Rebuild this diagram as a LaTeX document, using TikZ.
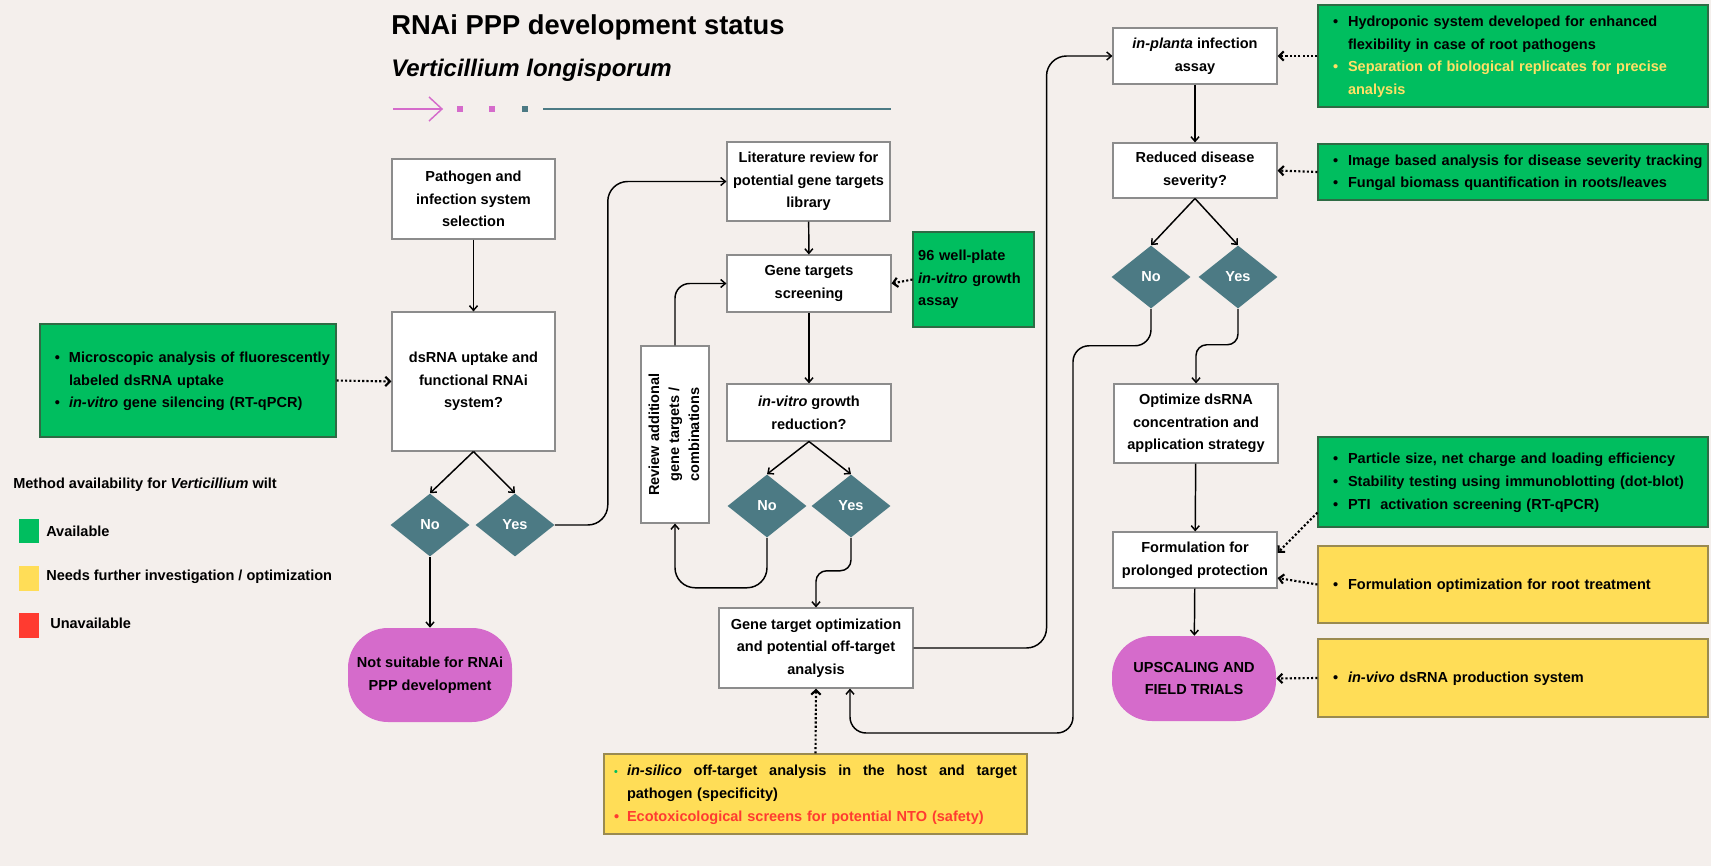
\documentclass[tikz,border=0pt]{standalone}
\usepackage{fontspec}
\setmainfont{Liberation Sans}
\usetikzlibrary{arrows.meta,shapes.geometric}
\definecolor{bg}{HTML}{F4EFEC}
\definecolor{gfill}{HTML}{00BE5F}
\definecolor{gline}{HTML}{2E6B44}
\definecolor{yfill}{HTML}{FFDD57}
\definecolor{yline}{HTML}{9A8A50}
\definecolor{pinkf}{HTML}{D56BCB}
\definecolor{tealc}{HTML}{4C7A84}
\definecolor{bgray}{HTML}{8C8C8C}
\definecolor{redt}{HTML}{FF3B30}
\definecolor{yelt}{HTML}{FFE066}
\newcommand\mybf{\bfseries\fontsize{10.9}{17}\selectfont}
\newcommand\blt{\textbullet}
\begin{document}
\begin{tikzpicture}[x=0.75pt,y=-0.75pt,
  sz/.style 2 args={minimum width=#1*0.75pt, minimum height=#2*0.75pt},
  wbox/.style={draw=bgray, line width=0.8pt, fill=white, inner sep=0pt, align=center, font=\mybf},
  dia/.style={diamond, fill=tealc, inner sep=0pt, text=white, font=\mybf, minimum width=79*0.75pt, minimum height=63*0.75pt},
  pill/.style={fill=pinkf, rounded corners=30pt, inner sep=0pt, align=center, font=\mybf},
  gbox/.style={draw=gline, line width=0.8pt, fill=gfill, inner ysep=0pt, inner xsep=11.25pt, align=left, font=\mybf},
  ybox/.style={draw=yline, line width=0.8pt, fill=yfill, inner ysep=0pt, inner xsep=11.25pt, align=left, font=\mybf},
  lab/.style={inner sep=0pt, anchor=west, font=\mybf},
  arr/.style={line width=1.1pt, -{Straight Barb[length=3.5pt,width=6pt]}},
  dots/.style={line width=1.6pt, dash pattern=on 1.6pt off 1.6pt, -{Straight Barb[length=3.5pt,width=7pt]}},
]
\useasboundingbox (0,0) rectangle (1711,866);
\fill[bg] (0,0) rectangle (1711,866);

% header
\node[anchor=base west, inner sep=0pt, font=\bfseries\fontsize{20.5}{24}\selectfont] (title) at (391,35) {RNAi PPP development status};
\node[anchor=base west, inner sep=0pt, font=\bfseries\itshape\fontsize{18}{22}\selectfont] (subtitle) at (391,77) {Verticillium longisporum};
\draw[pinkf, line width=1.1pt] (393,109) -- (441,109);
\draw[pinkf, line width=1.1pt] (429,97) -- (442,109) -- (429,121);
\fill[pinkf] (457,106) rectangle (463,112);
\fill[pinkf] (489,106) rectangle (495,112);
\fill[tealc] (522,106) rectangle (528,112);
\draw[tealc, line width=1.6pt] (543,109) -- (891,109);

% left column
\node[wbox, sz={163}{80}] (path) at (473.5,199) {Pathogen and\\infection system\\selection};
\node[wbox, sz={163}{139}] (dsrna) at (473.5,381.5) {dsRNA uptake and\\functional RNAi\\system?};
\node[dia] (no1) at (430,525) {No};
\node[dia] (yes1) at (515,525) {Yes};
\node[pill, sz={164}{94}] (notsuit) at (430,675) {Not suitable for RNAi\\PPP development};
\node[gbox, sz={296}{113}, text width=199.5pt] (gleft) at (188,380.5) {%
  \begin{tabular}{@{}p{10.5pt}@{}l@{}}
  \blt & Microscopic analysis of fluorescently\\
       & labeled dsRNA uptake\\
  \blt & \textit{in-vitro} gene silencing (RT-qPCR)
  \end{tabular}};

% legend
\node[lab] (legt) at (13,485) {Method availability for \textit{Verticillium} wilt};
\node[fill=gfill, sz={20}{24}, inner sep=0pt] (lgs) at (29,531) {};
\node[lab] (lgt) at (46,531) {Available};
\node[fill=yfill, sz={20}{25}, inner sep=0pt] (lys) at (29,578.5) {};
\node[lab] (lyt) at (46,577) {Needs further investigation / optimization};
\node[fill=redt, sz={20}{25}, inner sep=0pt] (lrs) at (29,625.5) {};
\node[lab] (lrt) at (50,623) {Unavailable};

% middle column
\node[wbox, sz={163}{79}] (lit) at (808.5,181.5) {Literature review for\\potential gene targets\\library};
\node[wbox, sz={164}{57}] (screen) at (809,283.5) {Gene targets\\screening};
\node[gbox, sz={121}{95}, inner xsep=3.75pt, text width=83pt] (well) at (973.5,279.5) {96 well-plate\\\textit{in-vitro} growth\\assay};
\node[wbox, sz={164}{57}] (invitro) at (809,412.5) {\textit{in-vitro} growth\\reduction?};
\node[dia] (no2) at (767,506) {No};
\node[dia] (yes2) at (851,506) {Yes};
\node[wbox, sz={68}{177}, font=\bfseries\fontsize{10.9}{15}\selectfont] (review) at (675,434.5)
  {\rotatebox{90}{\begin{tabular}{@{}c@{}}Review additional\\gene targets /\\combinations\end{tabular}}};
\node[wbox, sz={194}{80}] (geneopt) at (816,648) {Gene target optimization\\and potential off-target\\analysis};
\node[ybox, sz={423}{80}, inner xsep=7.5pt, text width=302.25pt] (ybot) at (815.5,794) {%
  \begin{tabular}{@{}p{9.75pt}@{}l@{}}
  \textcolor{gfill}{\footnotesize\blt} & \hbox to 292.5pt{\textit{in-silico}\hfill off-target\hfill analysis\hfill in\hfill the\hfill host\hfill and\hfill target}\\
       & pathogen (specificity)\\
  \textcolor{redt}{\blt} & \textcolor{redt}{Ecotoxicological screens for potential NTO (safety)}
  \end{tabular}};

% right column
\node[wbox, sz={164}{56}] (inplanta) at (1195,56) {\textit{in-planta} infection\\assay};
\node[wbox, sz={164}{55}] (reduced) at (1195,170.5) {Reduced disease\\severity?};
\node[dia] (no3) at (1151,277) {No};
\node[dia] (yes3) at (1238,277) {Yes};
\node[wbox, sz={164}{79}] (optimize) at (1196,423.5) {Optimize dsRNA\\concentration and\\application strategy};
\node[wbox, sz={164}{56}] (formul) at (1195,560) {Formulation for\\prolonged protection};
\node[pill, sz={164}{85}] (upscale) at (1194,678.5) {UPSCALING AND\\FIELD TRIALS};

\node[gbox, sz={390}{102}, text width=270pt] (g1) at (1513,56) {%
  \begin{tabular}{@{}p{11.25pt}@{}l@{}}
  \blt & Hydroponic system developed for enhanced\\
       & flexibility in case of root pathogens\\
  \textcolor{yelt}{\blt} & \textcolor{yelt}{Separation of biological replicates for precise}\\
       & \textcolor{yelt}{analysis}
  \end{tabular}};
\node[gbox, sz={390}{56}, text width=270pt] (g2) at (1513,172) {%
  \begin{tabular}{@{}p{11.25pt}@{}l@{}}
  \blt & Image based analysis for disease severity tracking\\
  \blt & Fungal biomass quantification in roots/leaves
  \end{tabular}};
\node[gbox, sz={390}{90}, text width=270pt] (g3) at (1513,482) {%
  \begin{tabular}{@{}p{11.25pt}@{}l@{}}
  \blt & Particle size, net charge and loading efficiency\\
  \blt & Stability testing using immunoblotting (dot-blot)\\
  \blt & PTI\ \ activation screening (RT-qPCR)
  \end{tabular}};
\node[ybox, sz={390}{77}, text width=270pt] (y4) at (1513,584.5) {%
  \begin{tabular}{@{}p{11.25pt}@{}l@{}}
  \blt & Formulation optimization for root treatment
  \end{tabular}};
\node[ybox, sz={390}{78}, text width=270pt] (y5) at (1513,678) {%
  \begin{tabular}{@{}p{11.25pt}@{}l@{}}
  \blt & \textit{in-vivo} dsRNA production system
  \end{tabular}};

% connectors
\draw[arr] (path) -- (dsrna);
\draw[arr] (dsrna.south) -- (no1.north);
\draw[arr] (dsrna.south) -- (yes1.north);
\draw[arr] (no1.south) -- (notsuit.north);
\draw[arr, rounded corners=15pt] (yes1.east) -- ++(53,0) |- (lit.west);
\draw[dots] (gleft.east) -- (dsrna.west);

\draw[arr] (lit) -- (screen);
\draw[dots] (well.west) -- (screen.east);
\draw[arr] (screen) -- (invitro);
\draw[arr] (invitro.south) -- (no2.north);
\draw[arr] (invitro.south) -- (yes2.north);
\draw[arr, rounded corners=11pt] (review.north) |- (screen.west);
\draw[arr, rounded corners=15pt] (no2.south) -- ++(0,50) -| (review.south);
\draw[arr, rounded corners=8pt] (yes2.south) -- ++(0,33) -| (geneopt.north);
\draw[dots] (ybot.north) -- (geneopt.south);
\draw[arr, rounded corners=15pt] (geneopt.east) -- ++(133,0) |- (inplanta.west);

\draw[arr] (inplanta) -- (reduced);
\draw[arr] (reduced.south) -- (no3.north);
\draw[arr] (reduced.south) -- (yes3.north);
\draw[arr, rounded corners=8pt] (yes3.south) -- ++(0,36) -| (optimize.north);
\draw[arr, rounded corners=12pt] (no3.south) -- ++(0,37) -| (1073,733) -| ([xshift=25.5pt]geneopt.south);
\draw[arr] (optimize) -- (formul);
\draw[arr] (formul) -- (upscale);

\draw[dots] (g1.west) -- (inplanta.east);
\draw[dots] (g2.west) -- (reduced.east);
\draw[dots] ([yshift=11.25pt]g3.south west) -- ([yshift=5.25pt]formul.east);
\draw[dots] (y4.west) -- ([yshift=-13.5pt]formul.east);
\draw[dots] (y5.west) -- (upscale.east);
\end{tikzpicture}
\end{document}
